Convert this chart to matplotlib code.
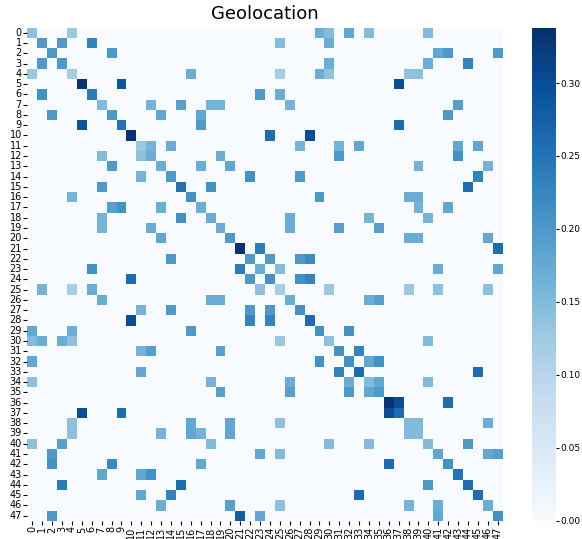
import matplotlib
matplotlib.use('Agg')
import matplotlib.pyplot as plt
from matplotlib.ticker import FormatStrFormatter, MultipleLocator
import numpy as np
import seaborn as sns

# node labels 0..47
labels = list(range(48))

# non-zero cells, one line per row: column indices and weights
nz_cols = [
    [0, 4, 29, 30, 32, 34, 40],
    [1, 3, 6, 25, 30],
    [2, 8, 41, 42, 47],
    [1, 3, 30, 40, 44],
    [0, 4, 16, 25, 29, 30, 38, 39],
    [5, 9, 37],
    [1, 6, 23, 25],
    [7, 12, 15, 18, 19, 26, 43],
    [2, 8, 13, 17, 42],
    [5, 9, 17, 37],
    [10, 24, 28],
    [11, 12, 14, 27, 31, 33, 43, 45],
    [7, 11, 12, 19, 31, 43],
    [8, 13, 17, 20, 39, 46],
    [11, 14, 22, 27, 45],
    [7, 15, 18, 44],
    [4, 16, 29, 38, 39],
    [8, 9, 13, 17, 39, 42],
    [7, 15, 18, 26, 34, 40],
    [7, 12, 19, 26, 31, 35],
    [13, 20, 38, 39, 46],
    [21, 23, 47],
    [14, 22, 24, 27, 28],
    [6, 21, 23, 25, 41, 47],
    [10, 22, 24, 27, 28],
    [1, 4, 6, 23, 25, 30, 38, 41, 46],
    [7, 18, 19, 26, 34, 35],
    [11, 14, 22, 24, 27],
    [10, 22, 24, 28],
    [0, 4, 16, 29, 32],
    [0, 1, 3, 4, 25, 30, 40],
    [11, 12, 19, 31, 33],
    [0, 29, 32, 34, 35],
    [11, 31, 33, 45],
    [0, 18, 26, 32, 34, 35, 40],
    [19, 26, 32, 34, 35],
    [36, 37, 42],
    [5, 9, 36, 37],
    [4, 16, 20, 25, 38, 39, 46],
    [4, 13, 16, 17, 20, 38, 39],
    [0, 3, 18, 30, 34, 40, 44],
    [2, 23, 25, 41, 46, 47],
    [2, 8, 17, 36, 42],
    [7, 11, 12, 43],
    [3, 15, 40, 44],
    [11, 14, 33, 45],
    [13, 20, 25, 38, 41, 46],
    [2, 21, 23, 41, 47],
]
nz_vals = [
    [0.14, 0.13, 0.17, 0.15, 0.18, 0.15, 0.15],
    [0.20, 0.20, 0.23, 0.15, 0.17],
    [0.20, 0.20, 0.18, 0.20, 0.20],
    [0.20, 0.20, 0.17, 0.17, 0.23],
    [0.13, 0.12, 0.17, 0.12, 0.17, 0.14, 0.14, 0.14],
    [0.333, 0.29, 0.30],
    [0.21, 0.24, 0.20, 0.17],
    [0.15, 0.16, 0.19, 0.16, 0.16, 0.16, 0.19],
    [0.20, 0.20, 0.18, 0.18, 0.20],
    [0.29, 0.25, 0.20, 0.26],
    [0.333, 0.26, 0.30],
    [0.13, 0.16, 0.17, 0.16, 0.16, 0.18, 0.18, 0.18],
    [0.15, 0.14, 0.17, 0.17, 0.20, 0.21],
    [0.20, 0.17, 0.17, 0.18, 0.16, 0.16],
    [0.16, 0.20, 0.21, 0.20, 0.23],
    [0.20, 0.25, 0.21, 0.26],
    [0.16, 0.21, 0.20, 0.17, 0.17],
    [0.19, 0.21, 0.17, 0.17, 0.16, 0.18],
    [0.16, 0.21, 0.17, 0.17, 0.16, 0.16],
    [0.16, 0.17, 0.17, 0.17, 0.19, 0.19],
    [0.18, 0.20, 0.17, 0.17, 0.18],
    [0.333, 0.24, 0.26],
    [0.20, 0.20, 0.20, 0.20, 0.22],
    [0.21, 0.24, 0.17, 0.15, 0.17, 0.18],
    [0.26, 0.20, 0.21, 0.21, 0.23],
    [0.16, 0.12, 0.17, 0.14, 0.12, 0.13, 0.13, 0.14, 0.14],
    [0.17, 0.17, 0.17, 0.17, 0.17, 0.19],
    [0.16, 0.20, 0.20, 0.20, 0.21],
    [0.30, 0.23, 0.23, 0.26],
    [0.18, 0.17, 0.20, 0.21, 0.21],
    [0.15, 0.17, 0.17, 0.14, 0.13, 0.14, 0.15],
    [0.16, 0.19, 0.19, 0.21, 0.23],
    [0.18, 0.21, 0.21, 0.18, 0.21],
    [0.18, 0.23, 0.26, 0.26],
    [0.14, 0.16, 0.17, 0.17, 0.15, 0.18, 0.15],
    [0.19, 0.19, 0.20, 0.18, 0.20],
    [0.333, 0.30, 0.26],
    [0.30, 0.26, 0.30, 0.26],
    [0.14, 0.18, 0.18, 0.14, 0.15, 0.15, 0.17],
    [0.14, 0.16, 0.18, 0.16, 0.18, 0.15, 0.15],
    [0.14, 0.19, 0.15, 0.15, 0.15, 0.15, 0.20],
    [0.20, 0.18, 0.15, 0.18, 0.18, 0.19],
    [0.21, 0.22, 0.18, 0.26, 0.21],
    [0.18, 0.18, 0.21, 0.25],
    [0.24, 0.26, 0.20, 0.26],
    [0.18, 0.23, 0.26, 0.26],
    [0.17, 0.19, 0.14, 0.16, 0.17, 0.17],
    [0.20, 0.28, 0.18, 0.18, 0.21],
]

mat = np.zeros((len(labels), len(labels)))
for r, (cs, vs) in enumerate(zip(nz_cols, nz_vals)):
    mat[r, cs] = vs

fig = plt.figure(figsize=(5.82, 5.39), dpi=100)
ax = fig.add_axes([0.0471, 0.0338, 0.8165, 0.915])
cax = fig.add_axes([0.914, 0.0338, 0.0412, 0.915])

sns.heatmap(mat, cmap='Blues', vmin=0, vmax=0.338,
            xticklabels=labels, yticklabels=labels, ax=ax, cbar_ax=cax)

ax.set_title('Geolocation', fontsize=13)
ax.tick_params(axis='x', labelsize=7, rotation=90, length=3, pad=1)
ax.tick_params(axis='y', labelsize=7, rotation=0, length=3, pad=1)

# colorbar ticks every 0.05, two decimals
cax.yaxis.set_major_locator(MultipleLocator(0.05))
cax.yaxis.set_major_formatter(FormatStrFormatter('%.2f'))
cax.tick_params(labelsize=6.5, length=2.5, pad=1)

fig.savefig('out.png', dpi=100)
